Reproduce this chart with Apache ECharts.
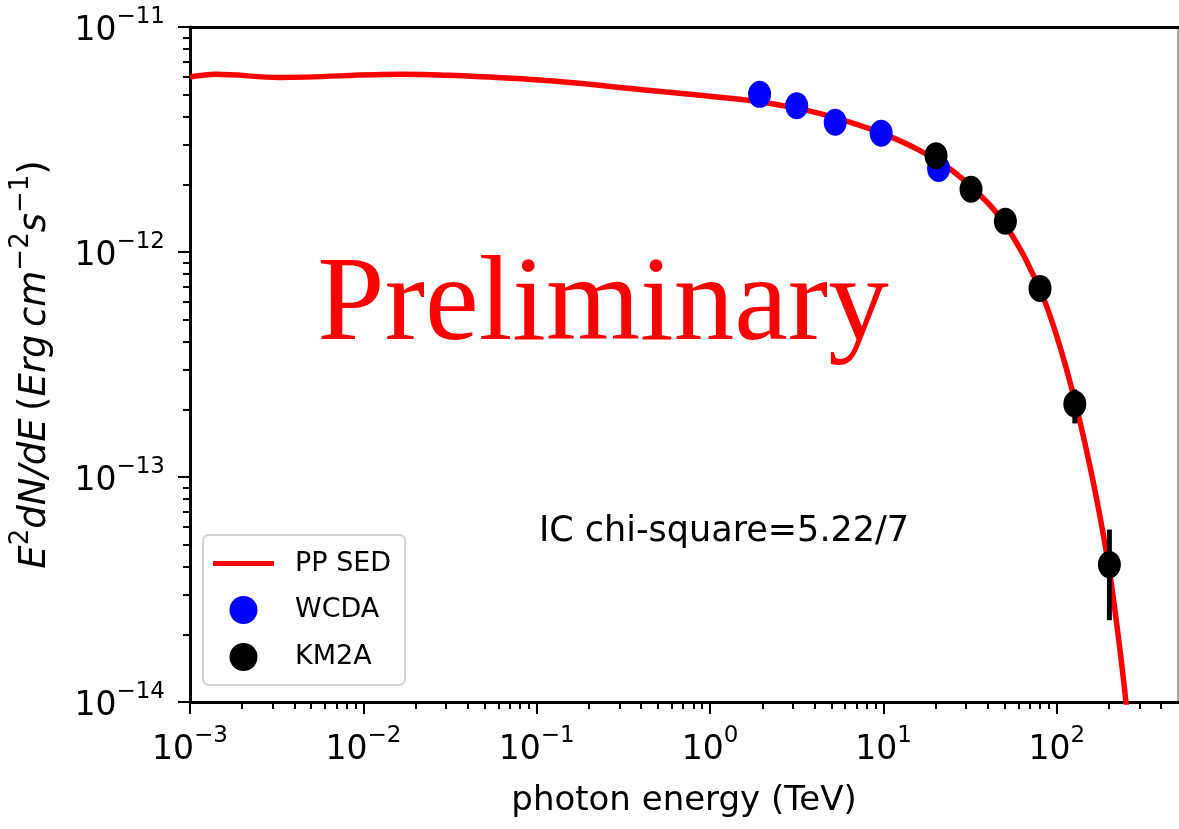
<!DOCTYPE html>
<html lang="en">
<head>
    <meta charset="UTF-8">
    <title>PP SED</title>
    <style>
        html, body { margin: 0; padding: 0; background: #fff; }
        #J-sed-chart { width: 1179px; height: 829px; }
    </style>
</head>
<body>

<div id="J-sed-chart"></div>

<script src="https://cdn.jsdelivr.net/npm/echarts@6/dist/echarts.min.js"></script>
<script>
    // model curve (TeV, erg cm^-2 s^-1)
    var curveE = [0.001, 0.00141, 0.0033, 0.0164, 0.0276, 0.104, 0.393, 1.48, 2.24, 3.72, 6.31, 10.0, 15.85,
        25.1, 39.8, 50.1, 63.1, 70.8, 79.4, 89.1, 100, 112.2, 125.9, 141.3, 158.5, 177.8, 199.5, 223.9, 251.2, 269.2];
    var curveF = [6.0e-12, 6.16e-12, 5.97e-12, 6.16e-12, 6.12e-12, 5.81e-12, 5.28e-12, 4.77e-12, 4.57e-12,
        4.24e-12, 3.79e-12, 3.35e-12, 2.85e-12, 2.29e-12, 1.66e-12, 1.33e-12, 9.94e-13, 8.32e-13, 6.92e-13,
        5.50e-13, 4.22e-13, 3.13e-13, 2.24e-13, 1.55e-13, 1.035e-13, 6.61e-14, 3.98e-14, 2.09e-14, 9.8e-15, 5.8e-15];

    var wcdaE = [1.93, 3.16, 5.27, 9.7, 20.8];
    var wcdaF = [5.02e-12, 4.47e-12, 3.77e-12, 3.37e-12, 2.35e-12];
    var wcdaLo = [4.85e-12, 4.32e-12, 3.64e-12, 3.25e-12, 2.24e-12];
    var wcdaHi = [5.2e-12, 4.62e-12, 3.9e-12, 3.5e-12, 2.47e-12];

    var km2aE = [20.1, 32.0, 50.5, 80.0, 127, 201];
    var km2aF = [2.68e-12, 1.90e-12, 1.37e-12, 6.89e-13, 2.11e-13, 4.08e-14];
    var km2aLo = [2.58e-12, 1.83e-12, 1.31e-12, 6.55e-13, 1.73e-13, 2.31e-14];
    var km2aHi = [2.79e-12, 1.98e-12, 1.44e-12, 7.25e-13, 2.45e-13, 5.84e-14];

    var xMajor = [1e-3, 1e-2, 1e-1, 1, 10, 100];
    var yMajor = [1e-14, 1e-13, 1e-12, 1e-11];
    var chiText = 'IC chi-square=5.22/7';
    var stampText = 'Preliminary';

    var xMinor = [];
    var yMinor = [];
    [-3, -2, -1, 0, 1, 2].forEach(function (k) {
        for (var m = 2; m <= 9; m++) {
            var v = m * Math.pow(10, k);
            if (v < 500) xMinor.push(v);
        }
    });
    [-14, -13, -12].forEach(function (k) {
        for (var m = 2; m <= 9; m++) yMinor.push(m * Math.pow(10, k));
    });

    function pow10Label(value) {
        var exp = Math.round(Math.log10(value));
        if (Math.abs(Math.log10(value) - exp) > 1e-6) return '';
        return '{b|10}{s|' + String(exp).replace('-', '\u2212') + '}';
    }

    var font = 'DejaVu Sans';
    var tickRich = {
        b: { fontFamily: font, fontSize: 33, color: '#000', lineHeight: 42, verticalAlign: 'bottom' },
        s: { fontFamily: font, fontSize: 23, color: '#000', lineHeight: 23, verticalAlign: 'top' }
    };

    function pairs(xs, ys) {
        return xs.map(function (x, i) { return [x, ys[i]]; });
    }

    function errorItem(color) {
        return function (params, api) {
            var p1 = api.coord([api.value(0), api.value(1)]);
            var p2 = api.coord([api.value(0), api.value(2)]);
            return {
                type: 'line',
                shape: { x1: p1[0], y1: p1[1], x2: p2[0], y2: p2[1] },
                style: { stroke: color, lineWidth: 5 }
            };
        };
    }

    var dot = 'path://M0,10A10,10,0,1,1,20,10A10,10,0,1,1,0,10Z';
    var chart = echarts.init(document.getElementById('J-sed-chart'));

    var option = {
        animation: false,
        backgroundColor: '#fff',
        grid: {
            left: 190, right: 1, top: 27, bottom: 127,
            show: true, borderColor: '#888', borderWidth: 1.5, backgroundColor: 'transparent'
        },
        legend: {
            orient: 'vertical',
            left: 203,
            top: 535,
            padding: [15, 14, 14, 10],
            itemWidth: 61,
            itemHeight: 28,
            itemGap: 19,
            symbolKeepAspect: true,
            backgroundColor: 'rgba(255,255,255,0.85)',
            borderColor: '#d3d3d3',
            borderWidth: 2,
            borderRadius: 6,
            textStyle: { fontFamily: font, fontSize: 27, color: '#000', padding: [0, 0, 0, 16] },
            data: [
                { name: 'PP SED', icon: 'path://M0,0H61V5H0Z' },
                { name: 'WCDA', icon: 'circle' },
                { name: 'KM2A', icon: 'circle' }
            ]
        },
        xAxis: [
            {
                type: 'log', logBase: 10, min: 0.001, max: 500, position: 'bottom',
                name: 'photon energy (TeV)',
                nameLocation: 'middle',
                nameGap: 82,
                nameTextStyle: { fontFamily: font, fontSize: 34, color: '#000' },
                axisLine: { lineStyle: { color: '#000', width: 3 } },
                axisTick: { customValues: xMajor, length: 12, lineStyle: { color: '#000', width: 2 } },
                axisLabel: { customValues: xMajor, margin: 23, formatter: pow10Label, rich: tickRich },
                splitLine: { show: false }
            },
            {
                type: 'log', logBase: 10, min: 0.001, max: 500, position: 'bottom',
                axisLine: { show: false },
                axisTick: { customValues: xMinor, length: 7, lineStyle: { color: '#000', width: 2 } },
                axisLabel: { show: false },
                splitLine: { show: false }
            },
            {
                type: 'log', logBase: 10, min: 0.001, max: 500, position: 'top',
                axisLine: { lineStyle: { color: '#000', width: 3 } },
                axisTick: { show: false },
                axisLabel: { show: false },
                splitLine: { show: false }
            }
        ],
        yAxis: [
            {
                type: 'log', logBase: 10, min: 1e-14, max: 1e-11, position: 'left',
                name: '{i|E}{s|2}{i|dN/dE}{n|\u2009(}{i|Erg\u2009cm}{s|\u22122}{i|s}{s|\u22121}{n|)}',
                nameLocation: 'middle',
                nameRotate: 90,
                nameGap: 136,
                nameTextStyle: {
                    rich: {
                        i: { fontFamily: font, fontStyle: 'italic', fontSize: 37, color: '#000', lineHeight: 46, verticalAlign: 'bottom' },
                        n: { fontFamily: font, fontSize: 37, color: '#000', lineHeight: 46, verticalAlign: 'bottom' },
                        s: { fontFamily: font, fontSize: 26, color: '#000', lineHeight: 26, verticalAlign: 'top' }
                    }
                },
                axisLine: { lineStyle: { color: '#000', width: 3 } },
                axisTick: { customValues: yMajor, length: 12, lineStyle: { color: '#000', width: 2 } },
                axisLabel: { customValues: yMajor, margin: 25, formatter: pow10Label, rich: tickRich },
                splitLine: { show: false }
            },
            {
                type: 'log', logBase: 10, min: 1e-14, max: 1e-11, position: 'left',
                axisLine: { show: false },
                axisTick: { customValues: yMinor, length: 7, lineStyle: { color: '#000', width: 2 } },
                axisLabel: { show: false },
                splitLine: { show: false }
            }
        ],
        graphic: [
            {
                type: 'text', x: 603, y: 307, z: 10,
                style: {
                    text: stampText, align: 'center', verticalAlign: 'middle',
                    fontFamily: 'Liberation Serif', fontSize: 121, fill: '#ff0000'
                }
            },
            {
                type: 'text', x: 724, y: 532, z: 10,
                style: {
                    text: chiText, align: 'center', verticalAlign: 'middle',
                    fontFamily: font, fontSize: 35, fill: '#000'
                }
            }
        ],
        series: [
            {
                name: 'PP SED',
                type: 'line',
                data: pairs(curveE, curveF),
                smooth: 0.35,
                symbol: 'none',
                clip: true,
                z: 2,
                lineStyle: { color: '#ff0000', width: 5.5 },
                itemStyle: { color: '#ff0000' }
            },
            {
                name: 'WCDA err',
                type: 'custom',
                renderItem: errorItem('#0000ff'),
                data: wcdaE.map(function (e, i) { return [e, wcdaLo[i], wcdaHi[i]]; }),
                encode: { x: 0, y: [1, 2] },
                z: 3
            },
            {
                name: 'WCDA',
                type: 'scatter',
                data: pairs(wcdaE, wcdaF),
                symbol: dot,
                symbolSize: [23, 27],
                z: 3,
                itemStyle: { color: '#0000ff', opacity: 1 }
            },
            {
                name: 'KM2A err',
                type: 'custom',
                renderItem: errorItem('#000'),
                data: km2aE.map(function (e, i) { return [e, km2aLo[i], km2aHi[i]]; }),
                encode: { x: 0, y: [1, 2] },
                z: 4
            },
            {
                name: 'KM2A',
                type: 'scatter',
                data: pairs(km2aE, km2aF),
                symbol: dot,
                symbolSize: [23, 27],
                z: 4,
                itemStyle: { color: '#000', opacity: 1 }
            }
        ]
    };

    chart.setOption(option);
</script>
</body>
</html>
